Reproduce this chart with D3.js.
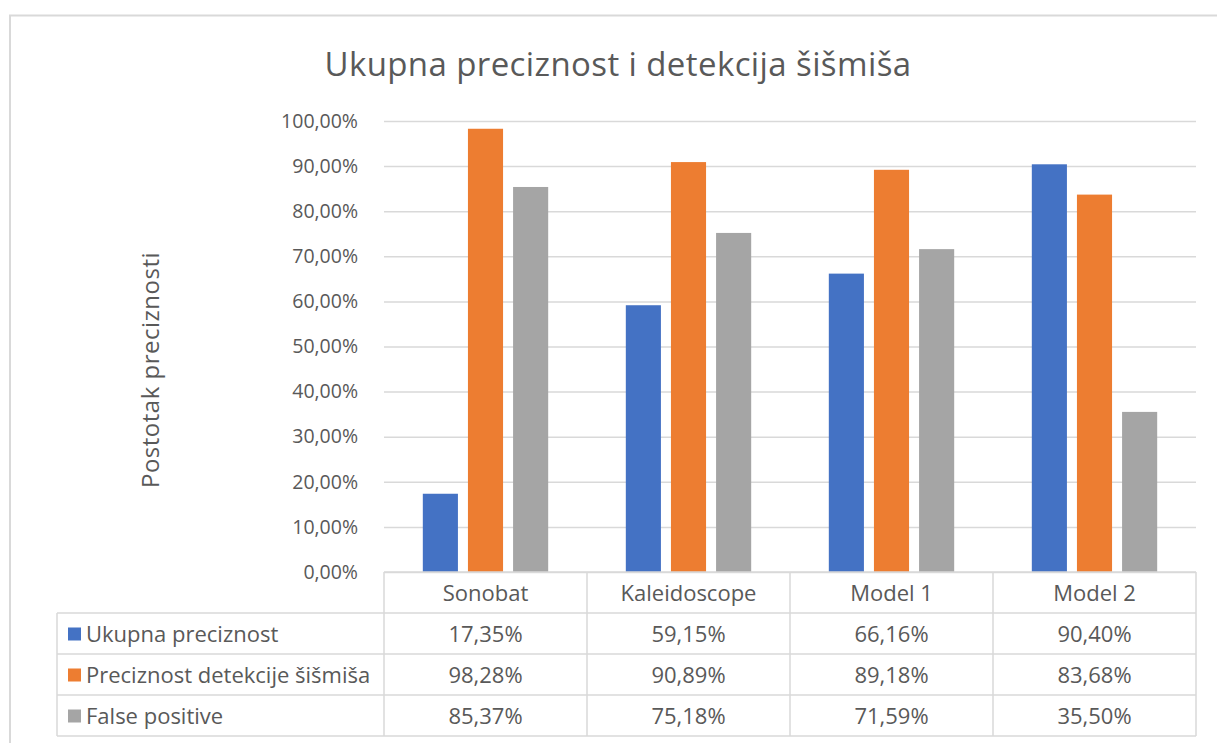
<!DOCTYPE html>
<html>
<head>
<meta charset="utf-8">
<script src="https://cdn.jsdelivr.net/npm/d3@7"></script>
<style>
  body { margin: 0; background: #fff; }
  svg text { font-family: "Open Sans", "DejaVu Sans", sans-serif; fill: #595959; }
</style>
</head>
<body>
<div id="chart"></div>
<script>
// chart data
const categories = ['Sonobat', 'Kaleidoscope', 'Model 1', 'Model 2'];
const seriesNames = ['Ukupna preciznost', 'Preciznost detekcije šišmiša', 'False positive'];
const ukupnaPreciznost = [17.35, 59.15, 66.16, 90.40];
const preciznostDetekcije = [98.28, 90.89, 89.18, 83.68];
const falsePositive = [85.37, 75.18, 71.59, 35.50];
const yTicks = [0, 10, 20, 30, 40, 50, 60, 70, 80, 90, 100];
const seriesColors = ['#4472c4', '#ed7d31', '#a5a5a5'];

const seriesValues = [ukupnaPreciznost, preciznostDetekcije, falsePositive];

const width = 1217;
const height = 743;

// plot area
const plot = { left: 384, right: 1196, top: 121, bottom: 572 };
const rowH = 41;
const tableLeft = 57;

// number format with decimal comma
const pct = d => d3.format('.2f')(d).replace('.', ',') + '%';

const svg = d3.select('#chart')
  .append('svg')
    .attr('width', width)
    .attr('height', height);

// outer frame (only top and left edges are visible in the picture)
svg.append('path')
  .attr('d', 'M10,743 V15.5 H1217')
  .attr('fill', 'none')
  .attr('stroke', '#d9d9d9')
  .attr('stroke-width', 2);

// title
svg.append('text')
  .attr('x', 618).attr('y', 76)
  .attr('text-anchor', 'middle')
  .style('font-size', '33px')
  .style('letter-spacing', '0.4px')
  .text('Ukupna preciznost i detekcija šišmiša');

// scales
const x0 = d3.scaleBand()
  .domain(categories)
  .range([plot.left, plot.right])
  .padding(0);

const x1 = d3.scaleBand()
  .domain(seriesNames)
  .range([0, x0.bandwidth()])
  .paddingInner(0.222)
  .paddingOuter(0.86);

const y = d3.scaleLinear()
  .domain([0, 100])
  .range([plot.bottom, plot.top]);

// gridlines
svg.append('g')
  .selectAll('line')
  .data(yTicks)
  .join('line')
    .attr('x1', plot.left)
    .attr('x2', plot.right)
    .attr('y1', d => y(d) + 0.5)
    .attr('y2', d => y(d) + 0.5)
    .attr('stroke', '#d9d9d9')
    .attr('stroke-width', 1.5);

// y axis labels
const yAxis = svg.append('g')
  .attr('transform', `translate(${plot.left}, 0)`)
  .call(d3.axisLeft(y)
    .tickValues(yTicks)
    .tickSize(0)
    .tickPadding(26)
    .tickFormat(pct));
yAxis.select('.domain').remove();
yAxis.selectAll('text')
  .attr('fill', '#595959')
  .style('font-size', '19.5px')
  .style('font-family', '"Open Sans", sans-serif');

// y axis title
svg.append('text')
  .attr('transform', 'translate(159, 370) rotate(-90)')
  .attr('text-anchor', 'middle')
  .style('font-size', '24px')
  .style('letter-spacing', '0.5px')
  .text('Postotak preciznosti');

// bars
const groups = svg.append('g')
  .selectAll('g')
  .data(categories)
  .join('g')
    .attr('transform', d => `translate(${x0(d)}, 0)`);

groups.selectAll('rect')
  .data((d, i) => seriesNames.map((s, j) => ({ series: s, value: seriesValues[j][i], color: seriesColors[j] })))
  .join('rect')
    .attr('x', d => x1(d.series))
    .attr('y', d => y(d.value))
    .attr('width', x1.bandwidth())
    .attr('height', d => y(0) - y(d.value))
    .attr('fill', d => d.color);

// data table
const table = svg.append('g');
const lineColor = '#d9d9d9';
const tableBottom = plot.bottom + rowH * 4;

// horizontal lines
table.append('line')
  .attr('x1', plot.left).attr('x2', plot.right)
  .attr('y1', plot.bottom).attr('y2', plot.bottom)
  .attr('stroke', lineColor).attr('stroke-width', 1.5);
for (let r = 1; r <= 4; r++) {
  table.append('line')
    .attr('x1', tableLeft).attr('x2', plot.right)
    .attr('y1', plot.bottom + rowH * r).attr('y2', plot.bottom + rowH * r)
    .attr('stroke', lineColor).attr('stroke-width', 1.5);
}

// vertical lines
table.append('line')
  .attr('x1', tableLeft).attr('x2', tableLeft)
  .attr('y1', plot.bottom + rowH).attr('y2', tableBottom)
  .attr('stroke', lineColor).attr('stroke-width', 1.5);
table.selectAll('.vline')
  .data(categories.concat(['end']))
  .join('line')
    .attr('class', 'vline')
    .attr('x1', (d, i) => i < categories.length ? x0(d) : plot.right)
    .attr('x2', (d, i) => i < categories.length ? x0(d) : plot.right)
    .attr('y1', plot.bottom)
    .attr('y2', tableBottom)
    .attr('stroke', lineColor)
    .attr('stroke-width', 1.5);

// header row
table.selectAll('.cat')
  .data(categories)
  .join('text')
    .attr('class', 'cat')
    .attr('x', d => x0(d) + x0.bandwidth() / 2)
    .attr('y', plot.bottom + rowH / 2 + 1)
    .attr('dy', '0.35em')
    .attr('text-anchor', 'middle')
    .style('font-size', '22px')
    .text(d => d);

// series rows
seriesNames.forEach((name, j) => {
  const rowMid = plot.bottom + rowH * (j + 1) + rowH / 2;
  table.append('rect')
    .attr('x', 68).attr('y', rowMid - 6)
    .attr('width', 13).attr('height', 13)
    .attr('fill', seriesColors[j]);
  table.append('text')
    .attr('x', 86).attr('y', rowMid + 1)
    .attr('dy', '0.35em')
    .style('font-size', '22px')
    .text(name);
  table.selectAll('.val' + j)
    .data(seriesValues[j])
    .join('text')
      .attr('class', 'val' + j)
      .attr('x', (d, i) => x0(categories[i]) + x0.bandwidth() / 2)
      .attr('y', rowMid + 1)
      .attr('dy', '0.35em')
      .attr('text-anchor', 'middle')
      .style('font-size', '22px')
      .text(pct);
});
</script>
</body>
</html>
